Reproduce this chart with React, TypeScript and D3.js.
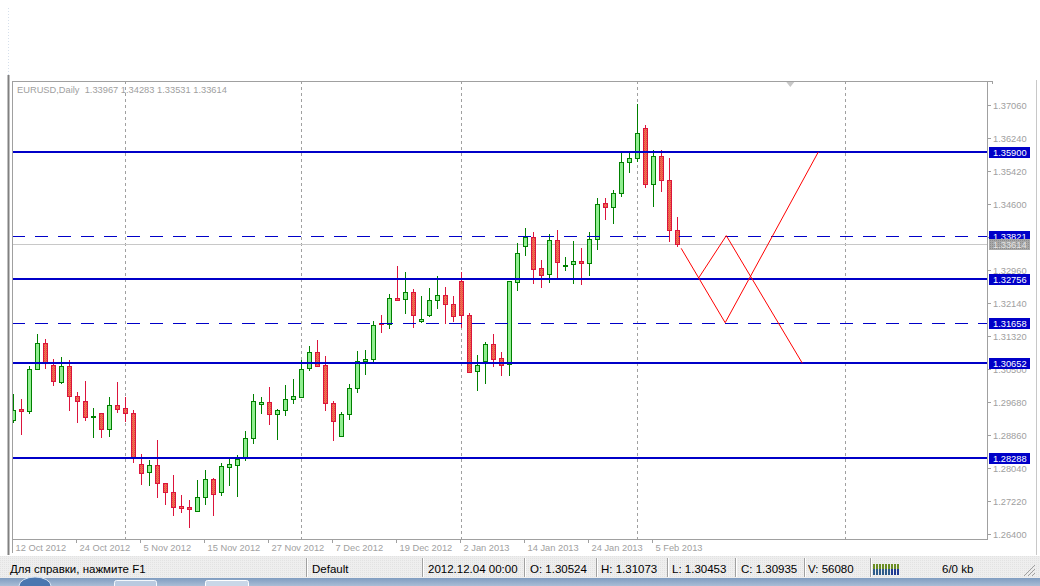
import React from 'react';
import * as d3 from 'd3';

// ---- data ----
const opens = [1.29239,1.29513,1.29456,1.30499,1.31145,1.30606,1.30176,1.30581,1.29828,1.29704,1.29307,1.29406,1.29008,1.29605,1.29530,1.29406,1.28146,1.27940,1.28114,1.27666,1.27443,1.27102,1.27070,1.26985,1.27318,1.27766,1.27458,1.28079,1.28128,1.28288,1.28785,1.29630,1.29679,1.29381,1.29488,1.29754,1.29804,1.30524,1.30922,1.30606,1.29654,1.28849,1.29381,1.30027,1.30706,1.30748,1.31642,1.31625,1.32264,1.32239,1.32413,1.31707,1.31841,1.32214,1.32346,1.32115,1.32694,1.31849,1.30470,1.30718,1.31123,1.30773,1.30638,1.32681,1.33571,1.33787,1.33009,1.32860,1.33713,1.33059,1.33109,1.33183,1.33148,1.33730,1.34625,1.34525,1.34888,1.35644,1.35743,1.36488,1.35097,1.35800,1.35204,1.33967];
const highs = [1.29886,1.29761,1.30581,1.31377,1.31252,1.30755,1.30805,1.30730,1.29935,1.30209,1.29538,1.29413,1.29804,1.30184,1.29804,1.29488,1.28394,1.28245,1.28742,1.27680,1.27873,1.27376,1.27251,1.27748,1.27997,1.27791,1.28163,1.28263,1.28370,1.28966,1.29886,1.29818,1.30067,1.29505,1.30109,1.30258,1.30730,1.31073,1.31228,1.30830,1.29719,1.29431,1.30127,1.30954,1.30979,1.31700,1.31849,1.32371,1.33066,1.32917,1.32487,1.32321,1.32520,1.32818,1.32552,1.32321,1.32910,1.31891,1.30855,1.31178,1.31377,1.30929,1.32700,1.33631,1.34018,1.33904,1.33215,1.33862,1.33961,1.33297,1.33688,1.33521,1.33904,1.34764,1.34764,1.34955,1.35867,1.35924,1.37092,1.36570,1.35949,1.35949,1.35743,1.34283];
const lows = [1.29172,1.28867,1.29396,1.30482,1.30514,1.30092,1.30127,1.29471,1.29172,1.29222,1.28800,1.28800,1.28824,1.29421,1.29190,1.28178,1.27632,1.27607,1.27308,1.27135,1.26861,1.26936,1.26563,1.26961,1.27127,1.26861,1.27358,1.27607,1.27333,1.28228,1.28643,1.29388,1.29123,1.28742,1.29346,1.29637,1.29790,1.30453,1.30564,1.29471,1.28725,1.28824,1.29239,1.29918,1.30358,1.30663,1.31409,1.31508,1.32204,1.31866,1.31533,1.31657,1.31792,1.31990,1.31618,1.31682,1.31533,1.30420,1.29960,1.30134,1.30549,1.30340,1.30340,1.32453,1.33322,1.32627,1.32527,1.32651,1.32751,1.32950,1.32619,1.32602,1.32825,1.33471,1.34210,1.34110,1.34789,1.35385,1.35658,1.35012,1.34540,1.34913,1.33670,1.33531];
const closes = [1.29488,1.29456,1.30499,1.31145,1.30663,1.30201,1.30581,1.29828,1.29704,1.29307,1.29331,1.29008,1.29605,1.29520,1.29406,1.28312,1.27915,1.28114,1.27666,1.27443,1.27070,1.27060,1.27020,1.27318,1.27766,1.27400,1.28096,1.28146,1.28263,1.28785,1.29712,1.29679,1.29381,1.29488,1.29754,1.29836,1.30499,1.30935,1.30581,1.29654,1.29222,1.29381,1.30027,1.30706,1.30755,1.31593,1.31618,1.32264,1.32229,1.32413,1.31841,1.31742,1.32214,1.32346,1.32115,1.31816,1.31841,1.30445,1.30619,1.31123,1.30768,1.30599,1.32694,1.33382,1.33795,1.32999,1.32850,1.33713,1.33173,1.33091,1.33183,1.33148,1.33730,1.34600,1.34525,1.34873,1.35644,1.35743,1.36364,1.35097,1.35800,1.35196,1.33954,1.33614];

const timeLabels = ['12 Oct 2012','24 Oct 2012','5 Nov 2012','15 Nov 2012','27 Nov 2012','7 Dec 2012','19 Dec 2012','2 Jan 2013','14 Jan 2013','24 Jan 2013','5 Feb 2013'];
const timeLabelBars = [0,8,16,24,32,40,48,56,64,72,80];
const gridBars = [14,36,56,78,104];

const priceTicks = [1.37060,1.36240,1.35420,1.34600,1.33780,1.32960,1.32140,1.31320,1.30500,1.29680,1.28860,1.28040,1.27220,1.26400];
const levelPrices = [1.35900,1.33821,1.32756,1.31658,1.30652,1.28288];
const bidPrice = 1.33614;

const zigzagABars = [83.46,88.96,100.6];
const zigzagAPrices = [1.33506,1.31658,1.35900];
const zigzagBBars = [85.6,89.1,98.6];
const zigzagBPrices = [1.32756,1.33821,1.30652];
const shiftMarkerBar = 97.1;

const headerSymbol = 'EURUSD,Daily';
const headerOHLC = ['1.33967','1.34283','1.33531','1.33614'];

const statusTexts = ['Для справки, нажмите F1','Default','2012.12.04 00:00','O: 1.30524','H: 1.31073','L: 1.30453','C: 1.30935','V: 56080','','6/0 kb'];

// ---- styles ----
const levelDashed = [false,true,false,true,false,false];
const statusTextX = [10,312,428,530,601,672,741,808,0,942];
const statusSeps = [306,422,524,596,667,735,804,870];

export default function App() {
  const left = 12, right = 987, top = 81, bottom = 539;
  const x = d3.scaleLinear().domain([0, 1]).range([13.5, 21.5]);
  const y = d3.scaleLinear().domain([1.264, 1.3706]).range([534.3, 105.3]);
  const fmt = d3.format('.5f');
  const font = "'Liberation Sans', Arial, sans-serif";
  const blue = '#0000C8';

  const line = d3.line<[number, number]>().x(d => x(d[0])).y(d => y(d[1]));
  const zA = line(zigzagABars.map((b, i) => [b, zigzagAPrices[i]] as [number, number]));
  const zB = line(zigzagBBars.map((b, i) => [b, zigzagBPrices[i]] as [number, number]));

  const iconBars = d3.range(9);

  return (
    <svg width={1040} height={586} style={{ position: 'fixed', left: 0, top: 0, background: '#fff' }}
      fontFamily={font}>
      <defs>
        <clipPath id="plot"><rect x={left + 1} y={top + 1} width={right - left - 1} height={bottom - top - 1} /></clipPath>
        <pattern id="bear" width="2" height="2" patternUnits="userSpaceOnUse">
          <rect width="2" height="2" fill="#F4704E" />
          <rect width="1" height="1" fill="#E24848" />
          <rect x="1" y="1" width="1" height="1" fill="#E85A46" />
        </pattern>
        <pattern id="sb" width="2" height="2" patternUnits="userSpaceOnUse">
          <rect width="2" height="2" fill="#EEEEEE" />
          <rect width="1" height="1" fill="#E2E2E2" />
        </pattern>
        <pattern id="gl" width="2" height="2" patternUnits="userSpaceOnUse">
          <rect width="2" height="2" fill="#A8A8A8" />
          <rect width="1" height="1" fill="#8C8C8C" />
        </pattern>
        <linearGradient id="tb" x1="0" y1="0" x2="0" y2="1">
          <stop offset="0" stopColor="#7F9CC0" />
          <stop offset="1" stopColor="#A9BDD6" />
        </linearGradient>
      </defs>

      {/* window frame */}
      <rect x={0} y={0} width={1040} height={586} fill="#fff" />
      <line x1={8.5} y1={8} x2={8.5} y2={75} stroke="#D6E0EC" strokeDasharray="1,2" />
      <line x1={8.5} y1={75} x2={8.5} y2={556} stroke="#808080" strokeWidth={2} />
      <line x1={1036.5} y1={80} x2={1036.5} y2={556} stroke="#C8C8C8" />
      <line x1={left + 0.5} y1={top} x2={left + 0.5} y2={bottom + 14} stroke="#A0A0A0" />
      <line x1={left} y1={top + 0.5} x2={992} y2={top + 0.5} stroke="#A0A0A0" />
      <line x1={right + 0.5} y1={top} x2={right + 0.5} y2={bottom + 1} stroke="#A0A0A0" />
      <line x1={left} y1={bottom + 0.5} x2={right + 1} y2={bottom + 0.5} stroke="#A0A0A0" />
      <line x1={992.5} y1={top} x2={992.5} y2={84} stroke="#A0A0A0" />

      <g clipPath="url(#plot)">
        {/* vertical grid */}
        {gridBars.map(b => (
          <line key={'g' + b} x1={x(b)} x2={x(b)} y1={top} y2={bottom} stroke="#A0A0A0" strokeDasharray="3,3" />
        ))}
        {/* bid line */}
        <line x1={left} x2={right} y1={Math.round(y(bidPrice)) + 0.5} y2={Math.round(y(bidPrice)) + 0.5} stroke="#C8C8C8" />

        {/* candles */}
        {opens.map((o, i) => {
          const c = closes[i], h = highs[i], l = lows[i];
          const bull = c >= o;
          const cx = x(i);
          const yt = Math.round(y(Math.max(o, c)));
          const yb = Math.round(y(Math.min(o, c)));
          const stroke = bull ? '#008000' : '#DC143C';
          return (
            <g key={'c' + i} shapeRendering="crispEdges">
              <line x1={cx} x2={cx} y1={Math.round(y(h))} y2={Math.round(y(l))} stroke={stroke} />
              {yb - yt < 1 ? (
                <rect x={cx - 2.5} y={yt - 1} width={5} height={2} fill={stroke} />
              ) : (
                <rect x={cx - 2} y={yt + 0.5} width={4} height={Math.max(1, yb - yt)} fill={bull ? '#90EE90' : 'url(#bear)'} stroke={stroke} />
              )}
            </g>
          );
        })}

        {/* horizontal levels */}
        {levelPrices.map((p, i) => {
          const yy = Math.round(y(p));
          return levelDashed[i] ? (
            <line key={'l' + i} x1={left} x2={right} y1={yy + 0.5} y2={yy + 0.5} stroke={blue} strokeDasharray="13,10" />
          ) : (
            <line key={'l' + i} x1={left} x2={right} y1={yy} y2={yy} stroke={blue} strokeWidth={2} shapeRendering="crispEdges" />
          );
        })}

        {/* zigzags */}
        <path d={zA || ''} fill="none" stroke="#FF0000" strokeWidth={1} />
        <path d={zB || ''} fill="none" stroke="#FF0000" strokeWidth={1} />
      </g>

      {/* shift marker */}
      <path d={`M${x(shiftMarkerBar) - 4},${top + 1} L${x(shiftMarkerBar) + 4},${top + 1} L${x(shiftMarkerBar)},${top + 6} Z`} fill="#C8C8C8" />

      {/* header */}
      <text x={17} y={93} fontSize={9.3} fill="#A0A0A0" style={{ whiteSpace: 'pre' }}>
        {headerSymbol + '  ' + headerOHLC.join(' ')}
      </text>

      {/* price axis */}
      {priceTicks.map(p => {
        const yy = Math.round(y(p));
        return (
          <g key={'t' + p}>
            <line x1={988} x2={991} y1={yy + 0.5} y2={yy + 0.5} stroke="#A0A0A0" />
            <text x={993} y={yy + 3.5} fontSize={9.3} fill="#A0A0A0">{fmt(p)}</text>
          </g>
        );
      })}
      {levelPrices.map((p, i) => {
        const yy = Math.round(y(p));
        return (
          <g key={'lb' + i}>
            <rect x={989} y={yy - 5} width={41} height={11} fill={blue} />
            <text x={993} y={yy + 4} fontSize={9.3} fill="#FFFFFF">{fmt(p)}</text>
          </g>
        );
      })}
      {(() => {
        const yy = Math.round(y(bidPrice));
        return (
          <g>
            <rect x={989} y={yy - 5} width={41} height={11} fill="url(#gl)" />
            <text x={993} y={yy + 4} fontSize={9.3} fill="#E4E4E4">{fmt(bidPrice)}</text>
          </g>
        );
      })()}

      {/* time axis */}
      {timeLabelBars.map((b, i) => (
        <g key={'x' + b}>
          <line x1={Math.floor(x(b)) - 1 + 0.5} x2={Math.floor(x(b)) - 1 + 0.5} y1={bottom} y2={bottom + 4} stroke="#A0A0A0" />
          <text x={x(b) + 2} y={551} fontSize={9.3} fill="#A0A0A0">{timeLabels[i]}</text>
        </g>
      ))}

      {/* status bar */}
      <rect x={0} y={555} width={1040} height={23} fill="url(#sb)" />
      <line x1={0} x2={1040} y1={555.5} y2={555.5} stroke="#FFFFFF" />
      {statusSeps.map(s => (
        <g key={'s' + s}>
          <line x1={s + 0.5} x2={s + 0.5} y1={558} y2={577} stroke="#A0A0A0" />
          <line x1={s + 1.5} x2={s + 1.5} y1={558} y2={577} stroke="#FFFFFF" />
        </g>
      ))}
      {statusTexts.map((t, i) => t ? (
        <text key={'st' + i} x={statusTextX[i]} y={573} fontSize={11.5} fill="#000">{t}</text>
      ) : null)}
      {iconBars.map(i => (
        <g key={'ib' + i}>
          <rect x={873 + i * 3} y={564 + (i % 3 === 0 ? 0 : 0)} width={2} height={5} fill="#6B8E23" />
          <rect x={873 + i * 3} y={569} width={2} height={6} fill={i > 5 ? '#1F3A93' : '#2E5C8A'} />
        </g>
      ))}
      <g stroke="#A0A0A0">
        <line x1={1024} y1={576} x2={1035} y2={565} />
        <line x1={1028} y1={576} x2={1035} y2={569} />
        <line x1={1032} y1={576} x2={1035} y2={573} />
      </g>

      {/* taskbar */}
      <rect x={0} y={578} width={1040} height={8} fill="url(#tb)" />
      <ellipse cx={35} cy={586} rx={16} ry={9} fill="#4A77B0" stroke="#D8E4F2" />
      <rect x={114.5} y={580.5} width={42} height={8} rx={2} fill="#B9CAE0" stroke="#F4F8FC" />
      <rect x={205.5} y={580.5} width={43} height={8} rx={2} fill="#C9D7E8" stroke="#FFFFFF" />
    </svg>
  );
}
